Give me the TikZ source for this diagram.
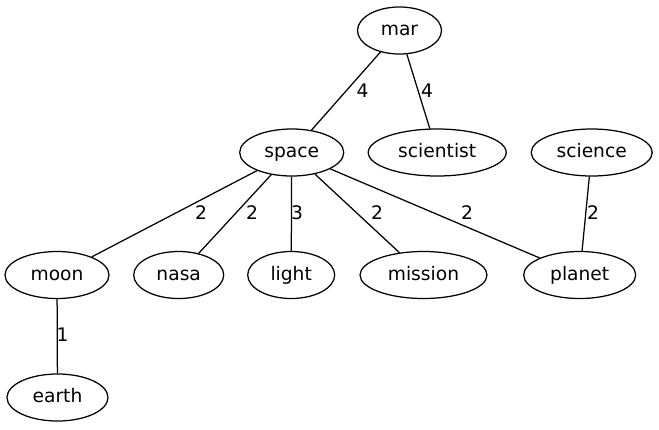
\documentclass[tikz,border=0pt]{standalone}
\usepackage{fontspec}
\setmainfont{DejaVu Sans}
\usetikzlibrary{shapes.geometric}
\begin{document}
\begin{tikzpicture}[x=1pt,y=-1pt,
  every node/.style={font=\fontsize{18.67pt}{22pt}\selectfont, text height=14.7pt, text depth=4pt},
  vtx/.style={draw, ellipse, line width=1.25pt, inner sep=0pt, minimum height=47pt},
  edge/.style={line width=1.25pt},
  lbl/.style={inner sep=0pt, anchor=base}]
\fill[white] (0,0) rectangle (659,429);
\useasboundingbox (0,0) rectangle (659,429);
% nodes
\node[vtx, minimum width=84pt]  (mar)       at (399.5,30.5) {mar};
\node[vtx, minimum width=104pt] (space)     at (291.7,152.5) {space};
\node[vtx, minimum width=138pt] (scientist) at (437.2,152.5) {scientist};
\node[vtx, minimum width=121pt] (science)   at (591.7,152.5) {science};
\node[vtx, minimum width=104pt] (moon)      at (57,275) {moon};
\node[vtx, minimum width=90pt]  (nasa)      at (178.7,275) {nasa};
\node[vtx, minimum width=87pt]  (light)     at (291.2,275) {light};
\node[vtx, minimum width=127pt] (mission)   at (423.5,275) {mission};
\node[vtx, minimum width=112pt] (planet)    at (579.7,275) {planet};
\node[vtx, minimum width=101pt] (earth)     at (57.5,397.5) {earth};
% edges
\draw[edge] (mar) -- (space);
\draw[edge] (mar) -- (scientist);
\draw[edge] (space) -- (moon);
\draw[edge] (space) -- (nasa);
\draw[edge] (space) -- (light);
\draw[edge] (space) -- (mission);
\draw[edge] (space) -- (planet);
\draw[edge] (science) -- (planet);
\draw[edge] (moon) -- (earth);
% edge labels
\node[lbl] (l1) at (362.5,97) {4};
\node[lbl] (l2) at (427,97) {4};
\node[lbl] (l3) at (201,219.3) {2};
\node[lbl] (l4) at (252,219.3) {2};
\node[lbl] (l5) at (297,219.3) {3};
\node[lbl] (l6) at (377,219.3) {2};
\node[lbl] (l7) at (467,219.3) {2};
\node[lbl] (l8) at (593,219.3) {2};
\node[lbl] (l9) at (62.5,341.8) {1};
\end{tikzpicture}
\end{document}
